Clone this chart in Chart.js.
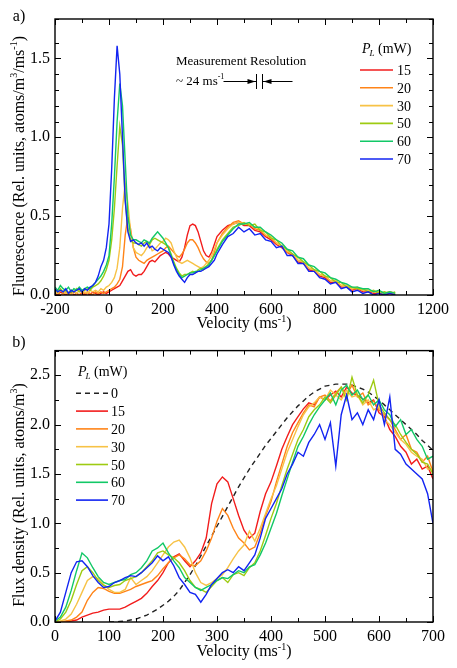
<!DOCTYPE html>
<html>
<head>
<meta charset="utf-8">
<script src="https://cdn.jsdelivr.net/npm/chart.js@4.4.1/dist/chart.umd.min.js"></script>
<style>
  html, body { margin: 0; padding: 0; background: #fff; }
  #wrap { position: relative; width: 457px; height: 668px; }
  canvas { position: absolute; left: 0; }
</style>
</head>
<body>
<div id="wrap">
  <canvas id="chartA" width="457" height="336" style="top:0"></canvas>
  <canvas id="chartB" width="457" height="332" style="top:336px"></canvas>
</div>
<script>
// ---- panel a) fluorescence vs velocity ----
const velA = [
  -200,-190,-180,-170,-160,-150,-140,-130,-120,-110,-100,
  -90,-80,-70,-60,-50,-40,-30,-20,-10,0,
  10,20,30,40,50,60,70,80,90,100,
  110,120,130,140,150,160,170,180,190,200,
  210,220,230,240,250,260,270,280,290,300,
  310,320,330,340,350,360,370,380,390,400,
  420,440,460,480,500,520,540,560,580,600,
  620,640,660,680,700,720,740,760,780,800,
  820,840,860,880,900,920,940,960,980,1000,
  1020,1040,1060
];
const fl15 = [
  0.01,0.00,0.02,0.01,0.00,0.01,0.02,0.00,0.01,0.00,0.01,
  0.00,0.01,0.00,0.02,0.01,0.00,0.01,0.02,0.01,0.02,
  0.03,0.04,0.05,0.06,0.09,0.12,0.15,0.16,0.13,0.12,
  0.13,0.13,0.15,0.18,0.21,0.22,0.21,0.23,0.25,0.26,
  0.27,0.26,0.24,0.23,0.22,0.21,0.24,0.30,0.38,0.44,
  0.45,0.44,0.40,0.34,0.28,0.25,0.24,0.27,0.32,0.37,
  0.41,0.44,0.45,0.46,0.44,0.44,0.41,0.40,0.37,0.35,
  0.32,0.30,0.27,0.25,0.21,0.20,0.16,0.15,0.12,0.11,
  0.08,0.08,0.05,0.05,0.03,0.04,0.02,0.02,0.01,0.01,
  0.00,0.01,0.00
];
const fl20 = [
  0.01,0.02,0.00,0.01,0.02,0.00,0.01,0.02,0.01,0.00,0.02,
  0.01,0.02,0.01,0.00,0.02,0.01,0.02,0.01,0.02,0.03,
  0.04,0.05,0.07,0.10,0.18,0.38,0.50,0.42,0.30,0.24,
  0.22,0.21,0.20,0.22,0.23,0.24,0.25,0.26,0.27,0.28,
  0.30,0.31,0.29,0.27,0.25,0.24,0.26,0.29,0.33,0.35,
  0.35,0.33,0.30,0.26,0.23,0.21,0.20,0.22,0.27,0.33,
  0.39,0.43,0.46,0.47,0.45,0.45,0.42,0.41,0.38,0.36,
  0.33,0.31,0.27,0.26,0.22,0.21,0.17,0.16,0.13,0.12,
  0.09,0.09,0.06,0.06,0.04,0.04,0.03,0.03,0.02,0.02,
  0.01,0.02,0.01
];
const fl30 = [
  0.02,0.01,0.03,0.02,0.01,0.02,0.00,0.02,0.01,0.03,0.02,
  0.02,0.01,0.03,0.02,0.03,0.02,0.04,0.03,0.05,0.06,
  0.08,0.11,0.17,0.30,0.55,0.71,0.58,0.40,0.30,0.27,
  0.26,0.25,0.27,0.30,0.32,0.28,0.29,0.31,0.33,0.34,
  0.36,0.35,0.33,0.28,0.24,0.21,0.20,0.21,0.22,0.21,
  0.20,0.19,0.18,0.17,0.18,0.20,0.22,0.25,0.29,0.33,
  0.38,0.42,0.45,0.46,0.45,0.45,0.43,0.42,0.38,0.37,
  0.33,0.31,0.28,0.26,0.22,0.21,0.17,0.16,0.13,0.12,
  0.09,0.09,0.06,0.06,0.04,0.05,0.03,0.03,0.02,0.02,
  0.01,0.02,0.01
];
const fl50 = [
  0.03,0.02,0.04,0.02,0.03,0.01,0.03,0.02,0.04,0.02,0.03,
  0.03,0.04,0.03,0.05,0.06,0.07,0.09,0.12,0.16,0.22,
  0.35,0.55,0.82,1.07,0.95,0.60,0.42,0.35,0.33,0.33,
  0.32,0.31,0.33,0.34,0.32,0.35,0.36,0.35,0.34,0.33,
  0.32,0.30,0.26,0.21,0.17,0.14,0.12,0.13,0.13,0.14,
  0.15,0.14,0.16,0.17,0.16,0.18,0.20,0.22,0.25,0.29,
  0.35,0.39,0.43,0.44,0.46,0.44,0.45,0.41,0.40,0.36,
  0.35,0.31,0.29,0.26,0.24,0.21,0.19,0.16,0.15,0.12,
  0.11,0.08,0.08,0.05,0.05,0.04,0.04,0.02,0.03,0.01,
  0.02,0.01,0.02
];
const fl60 = [
  0.05,0.03,0.06,0.04,0.03,0.05,0.02,0.04,0.03,0.05,0.03,
  0.04,0.05,0.04,0.06,0.08,0.10,0.12,0.15,0.19,0.25,
  0.45,0.75,1.10,1.34,1.20,0.85,0.50,0.38,0.35,0.35,
  0.34,0.33,0.35,0.34,0.33,0.36,0.38,0.40,0.38,0.36,
  0.33,0.30,0.25,0.20,0.16,0.13,0.11,0.12,0.13,0.14,
  0.14,0.15,0.15,0.16,0.17,0.18,0.19,0.22,0.25,0.28,
  0.34,0.38,0.42,0.45,0.45,0.46,0.43,0.43,0.40,0.38,
  0.35,0.33,0.29,0.28,0.24,0.23,0.19,0.18,0.15,0.14,
  0.11,0.10,0.08,0.07,0.05,0.05,0.04,0.04,0.02,0.03,
  0.01,0.02,0.01
];
const fl70 = [
  0.04,0.02,0.03,0.02,0.04,0.01,0.03,0.02,0.03,0.04,0.02,
  0.04,0.03,0.05,0.06,0.08,0.12,0.18,0.22,0.30,0.45,
  0.80,1.25,1.58,1.40,1.00,0.60,0.40,0.34,0.35,0.33,
  0.32,0.33,0.31,0.33,0.30,0.31,0.29,0.28,0.30,0.29,
  0.28,0.27,0.24,0.19,0.15,0.12,0.10,0.08,0.11,0.13,
  0.13,0.14,0.15,0.15,0.16,0.17,0.18,0.20,0.22,0.26,
  0.32,0.37,0.39,0.43,0.40,0.42,0.38,0.39,0.35,0.34,
  0.30,0.31,0.25,0.25,0.20,0.20,0.15,0.15,0.11,0.10,
  0.07,0.08,0.04,0.05,0.02,0.03,0.01,0.02,0.00,0.01,
  0.00,0.01,0.00
];

// ---- panel b) flux density vs velocity ----
const velB = [
  0,10,20,30,40,50,60,70,80,90,
  100,110,120,130,140,150,160,170,180,190,
  200,210,220,230,240,250,260,270,280,290,
  300,310,320,330,340,350,360,370,380,390,
  400,410,420,430,440,450,460,470,480,490,
  500,510,520,530,540,550,560,570,580,590,
  600,610,620,630,640,650,660,670,680,690,
  700
];
const fx0 = [
  null,null,null,null,null,null,null,null,null,null,
  0.00,0.00,0.005,0.01,0.02,0.03,0.05,0.07,0.10,0.13,
  0.17,0.21,0.26,0.32,0.40,0.48,0.57,0.67,0.77,0.87,
  0.97,1.07,1.17,1.27,1.37,1.46,1.55,1.63,1.71,1.79,
  1.86,1.93,2.00,2.07,2.13,2.19,2.24,2.29,2.33,2.36,
  2.39,2.40,2.41,2.41,2.41,2.40,2.38,2.36,2.33,2.29,
  2.25,2.20,2.15,2.10,2.05,2.00,1.95,1.90,1.84,1.79,
  1.74
];
const fx15 = [
  0.00,0.00,0.00,0.01,0.02,0.05,0.07,0.09,0.10,0.12,
  0.13,0.13,0.13,0.15,0.18,0.21,0.24,0.29,0.36,0.42,
  0.50,0.60,0.66,0.69,0.62,0.56,0.62,0.70,0.85,1.20,
  1.40,1.47,1.42,1.25,1.08,0.93,0.85,0.90,1.12,1.30,
  1.42,1.58,1.75,1.88,2.00,2.08,2.16,2.22,2.20,2.28,
  2.25,2.30,2.34,2.28,2.38,2.32,2.30,2.26,2.22,2.25,
  2.12,2.08,1.95,1.88,1.78,1.72,1.60,1.65,1.55,1.58,
  1.45
];
const fx20 = [
  0.00,0.00,0.01,0.02,0.05,0.10,0.22,0.30,0.35,0.34,
  0.31,0.29,0.29,0.31,0.33,0.36,0.38,0.40,0.42,0.47,
  0.54,0.60,0.65,0.68,0.64,0.58,0.57,0.62,0.72,0.85,
  1.02,1.15,1.08,0.95,0.85,0.80,0.73,0.76,0.90,1.08,
  1.22,1.42,1.60,1.78,1.92,2.02,2.12,2.20,2.18,2.28,
  2.30,2.24,2.32,2.38,2.30,2.40,2.28,2.32,2.20,2.24,
  2.15,2.10,2.05,1.95,1.85,1.90,1.75,1.72,1.62,1.68,
  1.52
];
const fx30 = [
  0.00,0.01,0.03,0.08,0.18,0.30,0.42,0.46,0.44,0.38,
  0.33,0.30,0.30,0.33,0.45,0.38,0.42,0.46,0.52,0.60,
  0.68,0.76,0.81,0.83,0.76,0.65,0.50,0.40,0.37,0.40,
  0.44,0.48,0.55,0.64,0.72,0.78,0.92,0.82,0.95,1.10,
  1.25,1.38,1.55,1.72,1.85,1.98,2.10,2.18,2.22,2.28,
  2.25,2.35,2.30,2.25,2.35,2.28,2.30,2.20,2.25,2.15,
  2.18,2.05,2.00,1.92,1.85,1.80,1.72,1.68,1.65,1.55,
  1.55
];
const fx50 = [
  0.00,0.03,0.10,0.22,0.38,0.52,0.56,0.50,0.42,0.37,
  0.35,0.37,0.38,0.42,0.44,0.46,0.50,0.56,0.62,0.70,
  0.72,0.68,0.65,0.60,0.52,0.42,0.35,0.33,0.30,0.36,
  0.42,0.45,0.40,0.48,0.50,0.47,0.55,0.60,0.72,0.88,
  1.05,1.20,1.38,1.55,1.70,1.85,1.95,2.08,2.15,2.20,
  2.28,2.22,2.30,2.38,2.25,2.48,2.30,2.22,2.30,2.45,
  2.20,2.12,2.05,2.00,1.90,1.82,1.75,1.70,1.62,1.60,
  1.50
];
const fx60 = [
  0.01,0.05,0.15,0.32,0.52,0.70,0.65,0.55,0.46,0.40,
  0.38,0.40,0.42,0.43,0.48,0.50,0.55,0.62,0.72,0.75,
  0.80,0.70,0.62,0.55,0.45,0.40,0.35,0.32,0.35,0.38,
  0.42,0.45,0.44,0.48,0.52,0.50,0.56,0.58,0.68,0.80,
  0.95,1.10,1.28,1.45,1.62,1.78,1.88,2.00,2.10,2.18,
  2.25,2.32,2.20,2.35,2.40,2.30,2.35,2.25,2.30,2.20,
  2.25,2.15,2.10,1.98,2.05,1.90,1.95,1.85,1.78,1.65,
  1.68
];
const fx70 = [
  0.01,0.10,0.30,0.50,0.61,0.62,0.56,0.47,0.40,0.35,
  0.36,0.40,0.42,0.45,0.47,0.46,0.50,0.55,0.60,0.67,
  0.62,0.66,0.57,0.45,0.38,0.30,0.28,0.20,0.28,0.38,
  0.44,0.50,0.53,0.50,0.56,0.52,0.60,0.68,0.85,1.05,
  1.15,1.25,1.35,1.50,1.60,1.72,1.68,1.82,1.90,2.00,
  1.85,2.02,1.58,2.10,2.30,2.05,2.12,2.00,2.15,2.05,
  2.25,2.00,2.28,1.75,1.70,1.60,1.55,1.50,1.45,1.30,
  1.00
];

const powersA = ['15', '20', '30', '50', '60', '70'];
const powersB = ['0', '15', '20', '30', '50', '60', '70'];
const seriesA = [fl15, fl20, fl30, fl50, fl60, fl70];
const seriesB = [fx0, fx15, fx20, fx30, fx50, fx60, fx70];
const colorsA = ['#f21c1c', '#ff8418', '#f7c246', '#9ecb12', '#12c867', '#1224f2'];
const colorsB = ['#222222'].concat(colorsA);

// measurement resolution marker (ms^-1)
const resStart = 544;
const resWidth = 24;

const serif = "'Liberation Serif', 'Times New Roman', serif";

// draw text with superscripts, centred on (x, y)
function drawRich(ctx, parts, x, y, size, rotate) {
  const supSize = Math.round(size * 0.62);
  let w = 0;
  parts.forEach(p => {
    ctx.font = (p[1] === 'sup' ? supSize : size) + 'px ' + serif;
    w += ctx.measureText(p[0]).width;
  });
  ctx.save();
  ctx.translate(x, y);
  if (rotate) ctx.rotate(-Math.PI / 2);
  ctx.textAlign = 'left';
  ctx.textBaseline = 'alphabetic';
  let cx = -w / 2;
  const base = size * 0.33;
  parts.forEach(p => {
    const sup = p[1] === 'sup';
    ctx.font = (sup ? supSize : size) + 'px ' + serif;
    ctx.fillText(p[0], cx, sup ? base - size * 0.42 : base);
    cx += ctx.measureText(p[0]).width;
  });
  ctx.restore();
}

function drawKey(chart, x0, x1, xt, yt, y0, step) {
  const ctx = chart.ctx;
  ctx.fillStyle = '#000';
  ctx.textAlign = 'left';
  ctx.textBaseline = 'alphabetic';
  let x = x0 + 2;
  ctx.font = 'italic 14px ' + serif;
  ctx.fillText('P', x, yt);
  x += ctx.measureText('P').width - 1;
  ctx.font = 'italic 9px ' + serif;
  ctx.fillText('L', x, yt + 3);
  x += ctx.measureText('L').width;
  ctx.font = '14px ' + serif;
  ctx.fillText(' (mW)', x, yt);
  chart.data.datasets.forEach((d, i) => {
    const y = y0 + i * step;
    ctx.strokeStyle = d.borderColor;
    ctx.lineWidth = 1.6;
    ctx.setLineDash(d.borderDash || []);
    ctx.beginPath();
    ctx.moveTo(x0, y);
    ctx.lineTo(x1, y);
    ctx.stroke();
    ctx.setLineDash([]);
    ctx.fillText(d.label, xt, y + 5);
  });
}

// box around the plot with inward ticks on all four sides
const frame = {
  id: 'frame',
  afterDatasetsDraw(chart) {
    const { ctx, chartArea: a } = chart;
    ctx.save();
    ctx.strokeStyle = '#000';
    ctx.lineWidth = 1;
    ctx.beginPath();
    const xs = chart.scales.x, ys = chart.scales.y;
    xs.ticks.forEach(t => {
      const p = Math.round(xs.getPixelForValue(t.value)) + 0.5;
      const len = t.label !== '' ? 6 : 4;
      ctx.moveTo(p, a.bottom); ctx.lineTo(p, a.bottom - len);
      ctx.moveTo(p, a.top); ctx.lineTo(p, a.top + len);
    });
    ys.ticks.forEach(t => {
      const p = Math.round(ys.getPixelForValue(t.value)) + 0.5;
      const len = t.label !== '' ? 6 : 4;
      ctx.moveTo(a.left, p); ctx.lineTo(a.left + len, p);
      ctx.moveTo(a.right, p); ctx.lineTo(a.right - len, p);
    });
    ctx.stroke();
    ctx.lineWidth = 1.4;
    ctx.strokeRect(a.left, a.top, a.right - a.left, a.bottom - a.top);
    ctx.restore();
  }
};

function isStep(v, s) {
  return Math.abs(v / s - Math.round(v / s)) < 1e-6;
}

function makeSets(vel, series, labels, colors) {
  return series.map((s, i) => ({
    label: labels[i],
    data: vel.map((v, k) => ({ x: v, y: s[k] })),
    borderColor: colors[i],
    borderWidth: labels[i] === '0' ? 1.4 : 1.4,
    borderDash: labels[i] === '0' ? [5, 4] : [],
    pointRadius: 0,
    tension: 0,
    fill: false,
    spanGaps: false,
    order: series.length - i
  }));
}

function baseOptions(xmin, xmax, xstep, xlabelStep, ymax, ystep, padTop, xHeight) {
  return {
    responsive: false,
    animation: false,
    devicePixelRatio: 1,
    events: [],
    layout: { padding: { left: 0, right: 24, top: padTop, bottom: 0 } },
    plugins: { legend: { display: false }, tooltip: { enabled: false } },
    scales: {
      x: {
        type: 'linear', min: xmin, max: xmax,
        afterFit: s => { s.height = xHeight; },
        grid: { display: false, drawTicks: false },
        border: { display: false },
        ticks: {
          stepSize: xstep, autoSkip: false, maxRotation: 0, padding: 5,
          color: '#000', font: { family: serif, size: 16 },
          callback: v => isStep(v, xlabelStep) ? String(v) : ''
        }
      },
      y: {
        min: 0, max: ymax,
        afterFit: s => { s.width = 55; },
        grid: { display: false, drawTicks: false },
        border: { display: false },
        ticks: {
          stepSize: ystep, autoSkip: false, padding: 5,
          color: '#000', font: { family: serif, size: 16 },
          callback: v => isStep(v, 0.5) ? v.toFixed(1) : ''
        }
      }
    }
  };
}

const extrasA = {
  id: 'extrasA',
  afterDraw(chart) {
    const ctx = chart.ctx;
    ctx.save();
    ctx.fillStyle = '#000';
    drawRich(ctx, [['a)']], 19, 16, 16, false);
    drawRich(ctx, [['Fluorescence (Rel. units, atoms/m'], ['3', 'sup'], ['/ms'], ['-1', 'sup'], [')']], 18.5, 166, 16, true);
    drawRich(ctx, [['Velocity (ms'], ['-1', 'sup'], [')']], 244, 323, 16, false);

    // measurement resolution
    ctx.textAlign = 'left';
    ctx.font = '13px ' + serif;
    ctx.fillText('Measurement Resolution', 176, 65);
    ctx.fillText('~ 24 ms', 176, 85);
    let w = ctx.measureText('~ 24 ms').width;
    ctx.font = '8px ' + serif;
    ctx.fillText('-1', 176 + w, 79);
    const xs = chart.scales.x;
    const b1 = Math.round(xs.getPixelForValue(resStart)) + 0.5;
    const b2 = Math.round(xs.getPixelForValue(resStart + resWidth)) + 0.5;
    const ya = 81.5;
    ctx.strokeStyle = '#000';
    ctx.lineWidth = 1;
    ctx.beginPath();
    ctx.moveTo(b1 - 33, ya); ctx.lineTo(b1, ya);
    ctx.moveTo(b2, ya); ctx.lineTo(b2 + 30, ya);
    ctx.moveTo(b1, 74); ctx.lineTo(b1, 89);
    ctx.moveTo(b2, 74); ctx.lineTo(b2, 89);
    ctx.stroke();
    ctx.beginPath();
    ctx.moveTo(b1 - 1, ya); ctx.lineTo(b1 - 9, ya - 2.5); ctx.lineTo(b1 - 9, ya + 2.5); ctx.closePath();
    ctx.moveTo(b2 + 1, ya); ctx.lineTo(b2 + 9, ya - 2.5); ctx.lineTo(b2 + 9, ya + 2.5); ctx.closePath();
    ctx.fill();

    drawKey(chart, 360, 393, 397, 53, 70, 17.8);
    ctx.restore();
  }
};

const extrasB = {
  id: 'extrasB',
  afterDraw(chart) {
    const ctx = chart.ctx;
    ctx.save();
    ctx.fillStyle = '#000';
    drawRich(ctx, [['b)']], 19, 6, 16, false);
    drawRich(ctx, [['Flux density (Rel. units, atoms/m'], ['3', 'sup'], [')']], 18.5, 159, 16, true);
    drawRich(ctx, [['Velocity (ms'], ['-1', 'sup'], [')']], 244, 315, 16, false);
    drawKey(chart, 76, 108, 111, 40, 57.3, 17.8);
    ctx.restore();
  }
};

new Chart(document.getElementById('chartA'), {
  type: 'line',
  data: { datasets: makeSets(velA, seriesA, powersA, colorsA) },
  options: baseOptions(-200, 1200, 100, 200, 1.75, 0.1, 19, 41),
  plugins: [frame, extrasA]
});

new Chart(document.getElementById('chartB'), {
  type: 'line',
  data: { datasets: makeSets(velB, seriesB, powersB, colorsB) },
  options: baseOptions(0, 700, 50, 100, 2.75, 0.25, 11, 46),
  plugins: [frame, extrasB]
});
</script>
</body>
</html>
